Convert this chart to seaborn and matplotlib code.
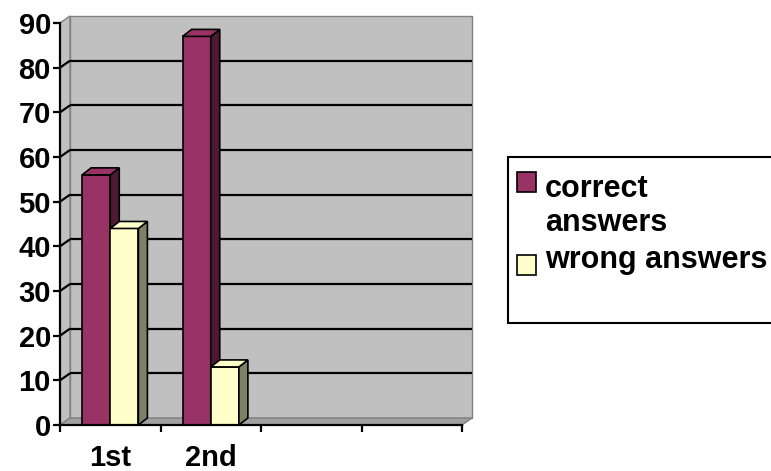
import matplotlib
matplotlib.use('Agg')
import matplotlib.pyplot as plt
import seaborn as sns
import pandas as pd
from matplotlib.patches import Polygon, Rectangle

# data
trials = ['1st', '2nd']
n_slots = 4  # the category axis has four slots, only two of them used
series = ['correct answers', 'wrong answers']
legend_labels = ['correct\nanswers', 'wrong answers']
correct = [56, 87]
wrong = [44, 13]
y_ticks = list(range(0, 100, 10))

front_colors = ['#993366', '#FFFFCC']
side_colors = ['#4D1933', '#808066']
wall_color = '#C0C0C0'
floor_color = '#A0A0A0'
edge_gray = '#808080'
FONT = ['Liberation Sans', 'DejaVu Sans']

df = pd.DataFrame({
    'trial': trials * 2,
    'series': [series[0]] * len(trials) + [series[1]] * len(trials),
    'value': correct + wrong,
})

W, H = 771, 471
fig = plt.figure(figsize=(W / 100, H / 100), dpi=100)
ax = fig.add_axes([60 / W, 46 / H, 402 / W, 402 / H])
ax.patch.set_visible(False)

sns.barplot(data=df, x='trial', y='value', hue='series', order=trials,
            hue_order=series, palette=front_colors, width=0.56,
            edgecolor='black', linewidth=1.2, saturation=1, legend=False, ax=ax)

ax.set_xlim(-0.5, n_slots - 0.5)
ax.set_ylim(0, 90)

# pixel -> data conversion for the fake depth
pos = ax.get_position()
px_x = pos.width * W / n_slots
px_y = pos.height * H / 90
wx, wy = 10 / px_x, 7 / px_y      # wall depth
bx, by = 9 / px_x, 7 / px_y       # bar depth
x0, x1 = -0.5, n_slots - 0.5

# back wall, side wall and floor
ax.add_patch(Rectangle((x0 + wx, wy), x1 - x0, 90, facecolor=wall_color,
                       edgecolor=edge_gray, lw=1, zorder=0.2, clip_on=False))
ax.add_patch(Polygon([(x0, 0), (x0 + wx, wy), (x0 + wx, 90 + wy), (x0, 90)],
                     closed=True, facecolor=wall_color, edgecolor=edge_gray,
                     lw=1, zorder=0.3, clip_on=False))
ax.add_patch(Polygon([(x0, 0), (x1, 0), (x1 + wx, wy), (x0 + wx, wy)],
                     closed=True, facecolor=floor_color, edgecolor=edge_gray,
                     lw=1, zorder=0.3, clip_on=False))
for t in y_ticks[1:-1]:
    ax.plot([x0 + wx, x1 + wx], [t + wy, t + wy], color='black', lw=1.6,
            zorder=0.4, clip_on=False, solid_capstyle='butt')
    ax.plot([x0, x0 + wx], [t, t + wy], color='black', lw=1.6,
            zorder=0.4, clip_on=False, solid_capstyle='butt')

# side and top faces for each bar
fronts = [c.upper() for c in front_colors]
for p in list(ax.patches):
    fc = matplotlib.colors.to_hex(p.get_facecolor()).upper()
    if fc not in fronts or p.get_width() > 1:
        continue
    k = fronts.index(fc)
    z = 2 + k
    p.set_zorder(z)
    bx0, bw, bh = p.get_x(), p.get_width(), p.get_height()
    bx1 = bx0 + bw
    ax.add_patch(Polygon([(bx1, 0), (bx1 + bx, by), (bx1 + bx, bh + by), (bx1, bh)],
                         closed=True, facecolor=side_colors[k], edgecolor='black',
                         lw=1.2, zorder=z, clip_on=False))
    ax.add_patch(Polygon([(bx0, bh), (bx1, bh), (bx1 + bx, bh + by), (bx0 + bx, bh + by)],
                         closed=True, facecolor=front_colors[k], edgecolor='black',
                         lw=1.2, zorder=z, clip_on=False))

# axes lines and ticks
for s in ['top', 'right']:
    ax.spines[s].set_visible(False)
for s in ['left', 'bottom']:
    ax.spines[s].set_color('black')
    ax.spines[s].set_linewidth(1.6)
    ax.spines[s].set_zorder(5)
ax.set_yticks(y_ticks)
ax.set_yticklabels([str(t) for t in y_ticks], fontsize=21, fontweight='bold',
                   family=FONT)
ax.tick_params(axis='y', length=5, width=1.6, pad=1.5)
ax.set_xticks([x0 + i for i in range(n_slots + 1)])
ax.set_xticklabels([])
ax.tick_params(axis='x', which='major', length=5, width=1.6)
ax.set_xticks(range(len(trials)), minor=True)
ax.set_xticklabels(trials, minor=True, fontsize=21, fontweight='bold', family=FONT)
ax.tick_params(axis='x', which='minor', length=0, pad=14)
ax.set_xlabel('')
ax.set_ylabel('')

# legend box (cut off at the right edge as in the reference)
fig.patches.append(Rectangle((508 / W, 1 - 323 / H), 300 / W, 166 / H,
                             transform=fig.transFigure, facecolor='white',
                             edgecolor='black', lw=1.5))
legend_rows = [(172, 231), (255, 268)]
for (top, base), lab, col in zip(legend_rows, legend_labels, front_colors):
    fig.patches.append(Rectangle((517 / W, 1 - (top + 20) / H), 19 / W, 20 / H,
                                 transform=fig.transFigure, facecolor=col,
                                 edgecolor='black', lw=1.2))
    fig.text(545 / W, 1 - base / H, lab, fontsize=22, fontweight='bold',
             family=FONT, va='baseline', ha='left', linespacing=1.17)

fig.savefig('out.png', dpi=100)
